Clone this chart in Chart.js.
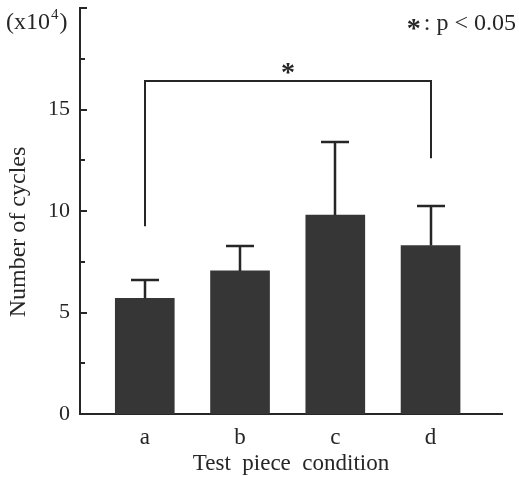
<!DOCTYPE html>
<html>
<head>
<meta charset="utf-8">
<script src="https://cdn.jsdelivr.net/npm/chart.js@4/dist/chart.umd.min.js"></script>
<style>
  body { margin: 0; background: #fff; }
  #wrap { width: 519px; height: 477px; }
</style>
</head>
<body>
<div id="wrap"><canvas id="myChart" width="519" height="477"></canvas></div>
<script>
// Fatigue test: number of cycles (x10^4) per test piece condition

const conditions = ['a', 'b', 'c', 'd']
const meanCycles = [5.7, 7.05, 9.8, 8.3]      // bar heights
const sdCycles = [0.9, 1.25, 3.6, 1.95]       // upper error bars
const yTicks = [0, 2.5, 5, 7.5, 10, 12.5, 15, 17.5, 20]

// significance bracket between a and d
const bracketPair = ['a', 'd']
const bracketTop = 16.4
const bracketEnds = [9.25, 12.6]

const serif = "'Liberation Serif', 'Times New Roman', serif"
const ink = '#262626'

// draws the inward tick marks, error bars, bracket and the text notes
const extras = {
    id: 'extras',
    afterDatasetsDraw(chart) {
        const ctx = chart.ctx
        const x = chart.scales.x
        const y = chart.scales.y
        ctx.save()
        ctx.strokeStyle = ink
        ctx.fillStyle = ink
        ctx.lineWidth = 2

        // ticks pointing into the plot
        y.ticks.forEach(t => {
            const py = Math.round(y.getPixelForValue(t.value))
            const len = t.value % 5 === 0 ? 7 : 5
            ctx.beginPath()
            ctx.moveTo(x.left, py)
            ctx.lineTo(x.left + len, py)
            ctx.stroke()
        })

        // error bars (upper only)
        ctx.lineWidth = 2.5
        const meta = chart.getDatasetMeta(0)
        meta.data.forEach((bar, i) => {
            const top = Math.round(y.getPixelForValue(meanCycles[i] + sdCycles[i]))
            const px = Math.round(bar.x)
            ctx.beginPath()
            ctx.moveTo(px, bar.y)
            ctx.lineTo(px, top)
            ctx.moveTo(px - 14, top)
            ctx.lineTo(px + 14, top)
            ctx.stroke()
        })

        // bracket
        const x1 = Math.round(x.getPixelForValue(conditions.indexOf(bracketPair[0]) + 1))
        const x2 = Math.round(x.getPixelForValue(conditions.indexOf(bracketPair[1]) + 1))
        const yt = Math.round(y.getPixelForValue(bracketTop))
        ctx.lineWidth = 2
        ctx.beginPath()
        ctx.moveTo(x1, y.getPixelForValue(bracketEnds[0]))
        ctx.lineTo(x1, yt)
        ctx.lineTo(x2, yt)
        ctx.lineTo(x2, y.getPixelForValue(bracketEnds[1]))
        ctx.stroke()
        ctx.font = 'bold 28px ' + serif
        ctx.textAlign = 'center'
        ctx.textBaseline = 'alphabetic'
        ctx.fillText('*', (x1 + x2) / 2, yt)

        // unit note
        ctx.textAlign = 'left'
        ctx.font = '24px ' + serif
        let cx = 6
        ctx.fillText('(x10', cx, 29)
        cx += ctx.measureText('(x10').width
        ctx.font = '15px ' + serif
        ctx.fillText('4', cx + 1, 19)
        cx += ctx.measureText('4').width + 2
        ctx.font = '24px ' + serif
        ctx.fillText(')', cx, 29)

        // significance note
        ctx.textAlign = 'right'
        ctx.fillText(': p < 0.05', 516, 30)
        const w = ctx.measureText(': p < 0.05').width
        ctx.font = 'bold 28px ' + serif
        ctx.fillText('*', 516 - w - 3, 37)

        // y axis title
        ctx.font = '24px ' + serif
        ctx.textAlign = 'center'
        ctx.translate(25, 232)
        ctx.rotate(-Math.PI / 2)
        ctx.fillText('Number of cycles', 0, 0)
        ctx.restore()
    }
}

function createChart() {
    const ctx = document.getElementById('myChart')
    new Chart(ctx, {
        type: 'bar',
        data: {
            datasets: [{
                data: meanCycles.map((v, i) => ({ x: i + 1, y: v })),
                backgroundColor: '#363636',
                borderWidth: 0,
                barThickness: 59
            }]
        },
        options: {
            responsive: false,
            animation: false,
            layout: { padding: { top: 8, right: 17, left: 0, bottom: 0 } },
            plugins: { legend: { display: false }, tooltip: { enabled: false } },
            scales: {
                x: {
                    type: 'linear',
                    offset: false,
                    min: 0.32,
                    max: 4.75,
                    afterBuildTicks: s => { s.ticks = conditions.map((c, i) => ({ value: i + 1 })) },
                    afterFit: s => { s.height = 63; s.paddingLeft = 0; s.paddingRight = 0 },
                    grid: { display: false, drawTicks: false, offset: false },
                    border: { display: true, color: ink, width: 2 },
                    ticks: {
                        color: ink,
                        padding: 10,
                        maxRotation: 0,
                        font: { family: serif, size: 23 },
                        callback: v => conditions[v - 1]
                    },
                    title: {
                        display: true,
                        text: 'Test  piece  condition',
                        color: ink,
                        font: { family: serif, size: 23, lineHeight: 1.1 },
                        padding: 0
                    }
                },
                y: {
                    min: 0,
                    max: 20,
                    afterBuildTicks: s => { s.ticks = yTicks.map(v => ({ value: v })) },
                    afterFit: s => { s.width = 80; s.paddingTop = 0; s.paddingBottom = 0 },
                    grid: { display: false, drawTicks: false },
                    border: { display: true, color: ink, width: 2 },
                    ticks: {
                        color: ink,
                        padding: 10,
                        font: { family: serif, size: 22 },
                        callback: v => (v % 5 === 0 && v < 20) ? v : ''
                    }
                }
            }
        },
        plugins: [extras]
    })
}

createChart()
</script>
</body>
</html>
